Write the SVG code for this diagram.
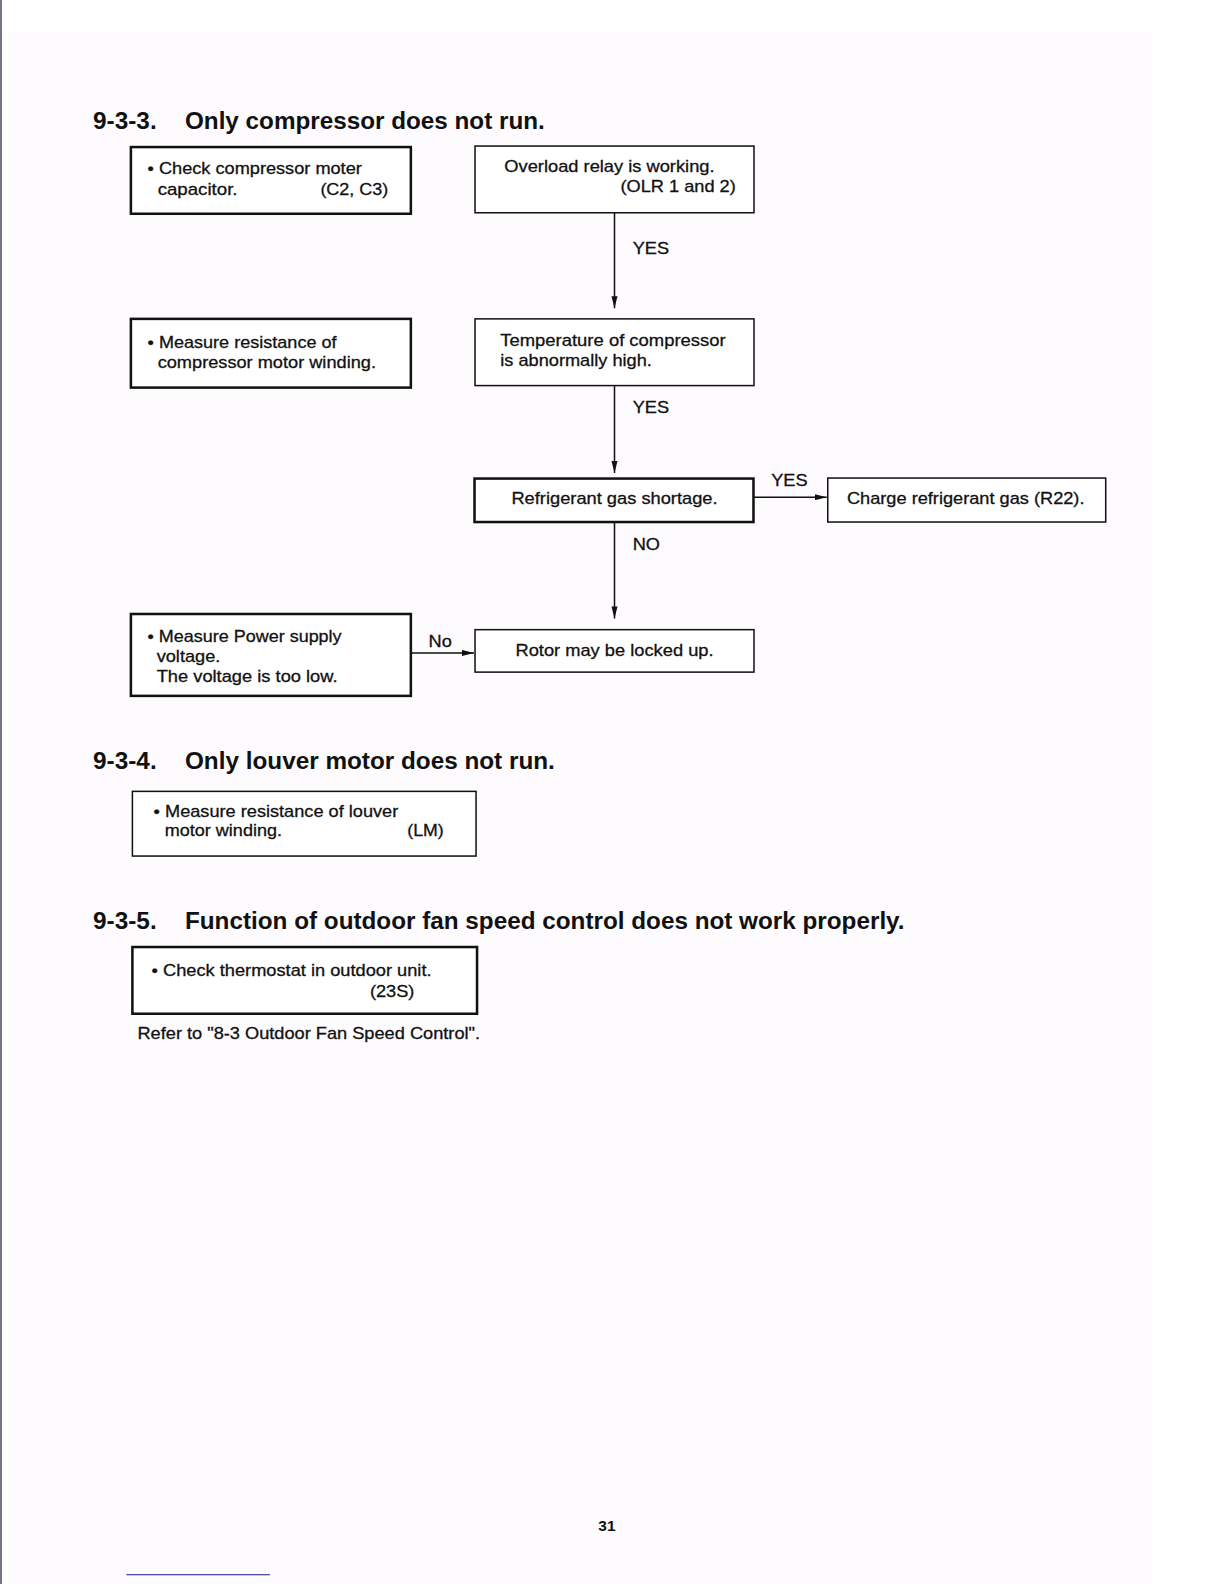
<svg xmlns="http://www.w3.org/2000/svg" width="1224" height="1584" viewBox="0 0 1224 1584">
<style>
text{font-family:"Liberation Sans",Arial,sans-serif;fill:#111;}
.t{font-size:17px;stroke:#111;stroke-width:0.3;}
.h{font-size:24px;font-weight:bold;}
.thick{fill:#fff;stroke:#111;stroke-width:2.5;}
.thin{fill:#fff;stroke:#111;stroke-width:1.5;}
.c{stroke:#111;stroke-width:1.5;fill:none;}
</style>
<defs>
<marker id="ah" viewBox="0 0 12 6" refX="12" refY="3" markerWidth="12" markerHeight="6" markerUnits="userSpaceOnUse" orient="auto">
<path d="M0,0 L12,3 L0,6 Z" fill="#111"/>
</marker>
</defs>
<rect x="0" y="0" width="1224" height="1584" fill="#ffffff"/>
<rect x="7" y="32" width="1145" height="1552" fill="#fdfbfd"/>
<rect x="0" y="0" width="2" height="1584" fill="#7a7488"/>

<g transform="scale(1.0107)">
<line x1="125" y1="1558" x2="267" y2="1558" stroke="#1a1a7a" stroke-width="1"/>

<text class="h" x="92" y="128" textLength="63" lengthAdjust="spacingAndGlyphs">9-3-3.</text>
<text class="h" x="183" y="128" textLength="356" lengthAdjust="spacingAndGlyphs">Only compressor does not run.</text>

<g id="connectors">
<line class="c" x1="608" y1="210" x2="608" y2="305" marker-end="url(#ah)"/>
<line class="c" x1="608" y1="382" x2="608" y2="468" marker-end="url(#ah)"/>
<line class="c" x1="746" y1="492" x2="818" y2="492" marker-end="url(#ah)"/>
<line class="c" x1="608" y1="517" x2="608" y2="612" marker-end="url(#ah)"/>
<line class="c" x1="407" y1="646" x2="469" y2="646" marker-end="url(#ah)"/>
<text class="t" x="626" y="251" textLength="36" lengthAdjust="spacingAndGlyphs">YES</text>
<text class="t" x="626" y="409" textLength="36" lengthAdjust="spacingAndGlyphs">YES</text>
<text class="t" x="763" y="481" textLength="36" lengthAdjust="spacingAndGlyphs">YES</text>
<text class="t" x="626" y="544" textLength="27" lengthAdjust="spacingAndGlyphs">NO</text>
<text class="t" x="424" y="640" textLength="23" lengthAdjust="spacingAndGlyphs">No</text>
</g>

<g id="check-capacitor">
<rect class="thick" x="129.5" y="145.5" width="277" height="66"/>
<text class="t" x="146" y="172" textLength="212" lengthAdjust="spacingAndGlyphs">• Check compressor moter</text>
<text class="t" x="156" y="193" textLength="79" lengthAdjust="spacingAndGlyphs">capacitor.</text>
<text class="t" x="317" y="193" textLength="67" lengthAdjust="spacingAndGlyphs">(C2, C3)</text>
</g>

<g id="overload-relay">
<rect class="thin" x="470" y="144.5" width="276" height="66"/>
<text class="t" x="499" y="170" textLength="208" lengthAdjust="spacingAndGlyphs">Overload relay is working.</text>
<text class="t" x="614" y="190" textLength="114" lengthAdjust="spacingAndGlyphs">(OLR 1 and 2)</text>
</g>

<g id="measure-winding">
<rect class="thick" x="129.5" y="315.5" width="277" height="68"/>
<text class="t" x="146" y="344" textLength="187" lengthAdjust="spacingAndGlyphs">• Measure resistance of</text>
<text class="t" x="156" y="364" textLength="216" lengthAdjust="spacingAndGlyphs">compressor motor winding.</text>
</g>

<g id="temperature-high">
<rect class="thin" x="470" y="315.5" width="276" height="66"/>
<text class="t" x="495" y="342" textLength="223" lengthAdjust="spacingAndGlyphs">Temperature of compressor</text>
<text class="t" x="495" y="362" textLength="150" lengthAdjust="spacingAndGlyphs">is abnormally high.</text>
</g>

<g id="gas-shortage">
<rect class="thick" x="469.5" y="473.5" width="276" height="43"/>
<text class="t" x="506" y="499" textLength="204" lengthAdjust="spacingAndGlyphs">Refrigerant gas shortage.</text>
</g>

<g id="charge-gas">
<rect class="thin" x="819" y="473" width="275" height="43.5"/>
<text class="t" x="838" y="499" textLength="235" lengthAdjust="spacingAndGlyphs">Charge refrigerant gas (R22).</text>
</g>

<g id="rotor-locked">
<rect class="thin" x="470" y="623" width="276" height="42"/>
<text class="t" x="510" y="649" textLength="196" lengthAdjust="spacingAndGlyphs">Rotor may be locked up.</text>
</g>

<g id="power-supply">
<rect class="thick" x="129.5" y="607.5" width="277" height="81"/>
<text class="t" x="146" y="635" textLength="192" lengthAdjust="spacingAndGlyphs">• Measure Power supply</text>
<text class="t" x="155" y="655" textLength="63" lengthAdjust="spacingAndGlyphs">voltage.</text>
<text class="t" x="155" y="675" textLength="179" lengthAdjust="spacingAndGlyphs">The voltage is too low.</text>
</g>

<text class="h" x="92" y="761" textLength="63" lengthAdjust="spacingAndGlyphs">9-3-4.</text>
<text class="h" x="183" y="761" textLength="366" lengthAdjust="spacingAndGlyphs">Only louver motor does not run.</text>

<g id="louver-winding">
<rect class="thin" x="131" y="783" width="340" height="64" stroke-width="1.8"/>
<text class="t" x="152" y="808" textLength="242" lengthAdjust="spacingAndGlyphs">• Measure resistance of louver</text>
<text class="t" x="163" y="827" textLength="116" lengthAdjust="spacingAndGlyphs">motor winding.</text>
<text class="t" x="403" y="827" textLength="36" lengthAdjust="spacingAndGlyphs">(LM)</text>
</g>

<text class="h" x="92" y="919" textLength="63" lengthAdjust="spacingAndGlyphs">9-3-5.</text>
<text class="h" x="183" y="919" textLength="712" lengthAdjust="spacingAndGlyphs">Function of outdoor fan speed control does not work properly.</text>

<g id="thermostat">
<rect class="thick" x="131" y="937" width="341" height="66" stroke-width="2.2"/>
<text class="t" x="150" y="966" textLength="277" lengthAdjust="spacingAndGlyphs">• Check thermostat in outdoor unit.</text>
<text class="t" x="366" y="986" textLength="44" lengthAdjust="spacingAndGlyphs">(23S)</text>
</g>
<text class="t" x="136" y="1028" textLength="339" lengthAdjust="spacingAndGlyphs">Refer to "8-3 Outdoor Fan Speed Control".</text>

<text x="592" y="1515" font-size="15" font-weight="bold" textLength="17" lengthAdjust="spacingAndGlyphs">31</text>
</g>
</svg>
